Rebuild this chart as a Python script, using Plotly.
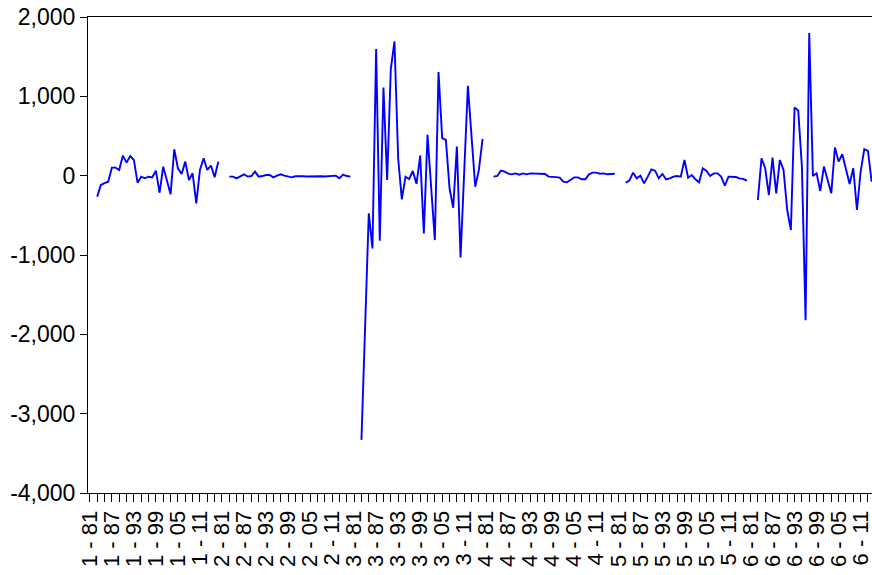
import plotly.graph_objects as go

# Panel layout: six cross-sections, annual observations 1981-2016
sections = [1, 2, 3, 4, 5, 6]
years = list(range(1981, 2017))

# First-available year of each cross-section's series (earlier years are missing)
start_year = 1983

sec1 = [-265, -118, -95, -76, 101, 101, 72, 253, 164, 248, 198, -88, -13, -33,
        -13, -21, 63, -215, 114, -55, -235, 333, 93, 21, 177, -55, 30, -349,
        72, 219, 72, 128, -21, 177]
sec2 = [-12, -12, -35, -10, 17, -12, -5, 51, -12, -5, 8, 8, -21, 0, 17, 0,
        -12, -21, -8, -5, -8, -10, -8, -8, -5, -8, -10, -8, -5, 0, -33, 13,
        -5, -12]
sec3 = [-3330, -1900, -475, -917, 1596, -820, 1111, -54, 1343, 1692, 220, -298,
        -13, -42, 59, -105, 253, -727, 514, -150, -812, 1305, 472, 450, -159,
        -404, 366, -1030, 50, 1132, 493, -139, 72, 463]
sec4 = [-12, -4, 63, 51, 25, 17, 29, 13, 29, 17, 29, 25, 29, 25, 21, -12, -12,
        -18, -25, -76, -84, -55, -21, -21, -46, -46, 17, 38, 38, 25, 29, 17,
        25, 25]
sec5 = [-88, -63, 38, -34, 0, -97, -12, 80, 63, -34, 21, -46, -34, -12, -4,
        -12, 198, -25, 8, -46, -84, 93, 59, -4, 29, 29, -12, -126, -12, -12,
        -17, -34, -40, -63]
sec6 = [-307, 220, 93, -244, 227, -223, 198, 72, -433, -686, 859, 821, 114,
        -1822, 1798, -4, 30, -193, 114, -55, -223, 354, 177, 270, 72, -105, 93,
        -433, 51, 333, 312, -76]

series = [sec1, sec2, sec3, sec4, sec5, sec6]

y_tickvals = [2000, 1000, 0, -1000, -2000, -3000, -4000]
y_ticktext = ["2,000", "1,000", "0", "-1,000", "-2,000", "-3,000", "-4,000"]

# Build the stacked panel series (None where an observation is missing)
n_years = len(years)
values = []
for vals in series:
    block = [None] * n_years
    offset = start_year - years[0]
    for j, v in enumerate(vals):
        if offset + j < n_years:
            block[offset + j] = v
    values.extend(block)
x_idx = list(range(len(values)))

# Axis ticks every second observation, labels every sixth ("section - yy")
tick_vals, tick_text = [], []
for s_i, s in enumerate(sections):
    for y_i, yr in enumerate(years):
        k = s_i * n_years + y_i
        if y_i % 2 == 0:
            tick_vals.append(k)
            tick_text.append(f"{s} - {yr % 100:02d}" if y_i % 6 == 0 else "")

fig = go.Figure(
    go.Scatter(
        x=x_idx, y=values, mode="lines",
        line=dict(color="#0000FF", width=1.9),
        connectgaps=False, hoverinfo="skip",
    )
)

fig.update_layout(
    width=872, height=575,
    margin=dict(l=88, r=0, t=17, b=82),
    paper_bgcolor="white", plot_bgcolor="white",
    showlegend=False,
    font=dict(family="Liberation Sans, Arial, sans-serif", color="black"),
)
fig.update_xaxes(
    range=[-0.5, 213.1],
    tickmode="array", tickvals=tick_vals, ticktext=tick_text,
    tickangle=-90, tickfont=dict(size=22), ticklabeloverflow="allow",
    ticks="outside", ticklen=8, tickcolor="black", tickwidth=1,
    showline=True, linecolor="black", linewidth=1, mirror=True,
    showgrid=False, zeroline=False,
)
fig.update_yaxes(
    range=[-4000, 2000],
    tickmode="array", tickvals=y_tickvals, ticktext=y_ticktext,
    tickfont=dict(size=23),
    ticks="outside", ticklen=7, tickcolor="black", tickwidth=1,
    showline=True, linecolor="black", linewidth=1,
    showgrid=False, zeroline=False,
)

fig.write_html("out.html")
